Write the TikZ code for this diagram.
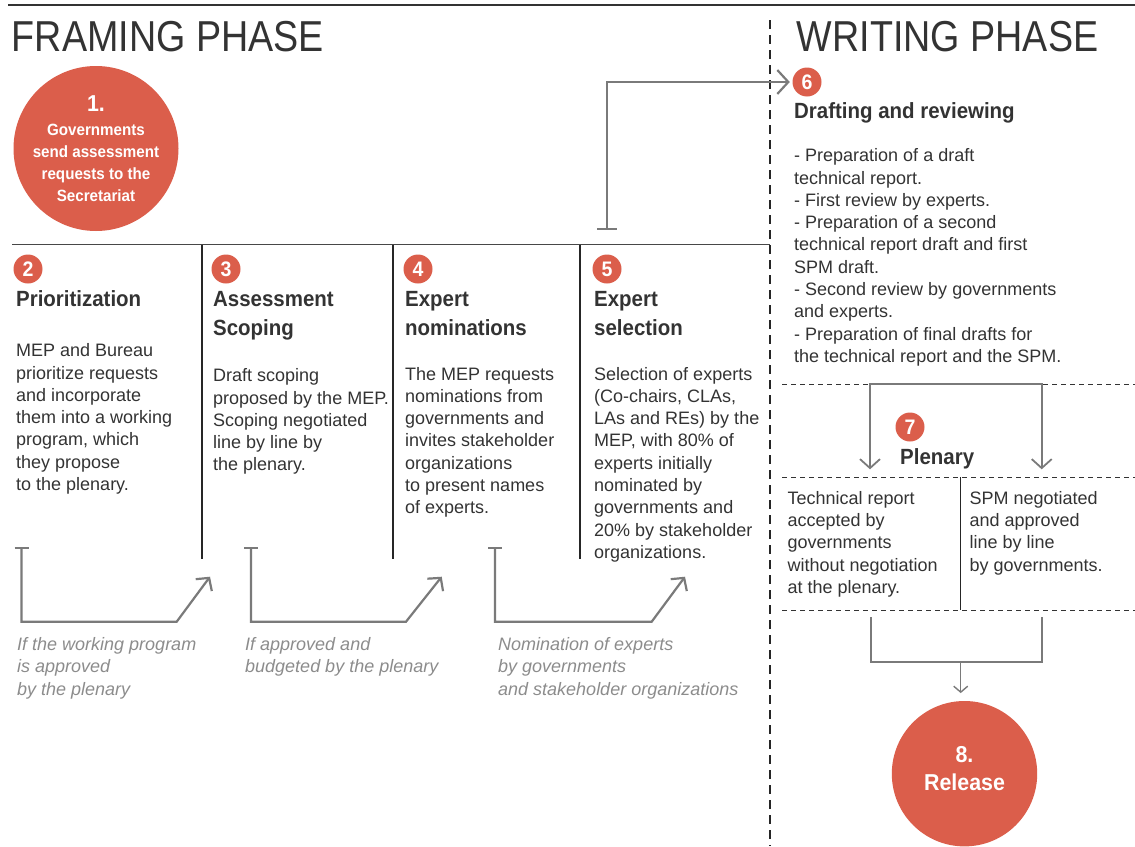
\documentclass[tikz,border=0pt]{standalone}
\usepackage{fontspec}
\setmainfont{Liberation Sans}
\newfontfamily\titlef[FakeStretch=0.87]{Liberation Sans}
\newfontfamily\headf[FakeStretch=0.93]{Liberation Sans}
\usetikzlibrary{arrows.meta}
\definecolor{ipred}{HTML}{DB5E4B}
\definecolor{ipdark}{HTML}{333333}
\definecolor{ipgray}{HTML}{7A7A7A}
\definecolor{ipcap}{HTML}{8C8C8C}
\tikzset{Barbtip/.tip={Straight Barb[length=9, width=20]}}
\begin{document}
% note: for multi-line nodes the base anchor is the baseline of the LAST line
\begin{tikzpicture}[x=1pt,y=-1pt,
  phasetitle/.style={anchor=base west, inner sep=0, font=\titlef\fontsize{43.3}{50}\selectfont, text=ipdark},
  head/.style={anchor=base west, inner sep=0, align=left, font=\headf\bfseries\fontsize{22}{28.3}\selectfont, text=ipdark},
  body/.style={anchor=base west, inner sep=0, align=left, font=\fontsize{18}{22.3}\selectfont, text=ipdark},
  capt/.style={anchor=base west, inner sep=0, align=left, font=\itshape\fontsize{18}{22.3}\selectfont, text=ipcap},
  num/.style={circle, fill=ipred, minimum size=29, inner sep=0, text=white, font=\headf\bfseries\fontsize{21}{21}\selectfont},
  bigc/.style={circle, fill=ipred, inner sep=0},
  bigtxt/.style={anchor=base, inner sep=0, align=center, text=white, font=\headf\bfseries\fontsize{16.3}{22}\selectfont},
  conn/.style={draw=ipgray, line width=2.2},
  thinconn/.style={draw=ipgray, line width=1.8},
  rule/.style={draw=ipdark, line width=1.2},
  dashv/.style={draw=black!85, line width=2, dash pattern=on 9 off 6},
  dashh/.style={draw=ipdark, line width=1, dash pattern=on 5 off 4},
]
\useasboundingbox (0,0) rectangle (1135,846);

% top rule and phase separator
\draw[draw=ipdark, line width=2] (8,5) -- (1135,5);
\draw[dashv] (770,20) -- (770,846);

% titles
\node[phasetitle] (tframe) at (11.7,51.7) {FRAMING PHASE};
\node[phasetitle] (twrite) at (796.7,51.7) {WRITING PHASE};

% step 1
\node[bigc, minimum size=165] (c1) at (96,148.5) {};
\node[bigtxt, font=\headf\bfseries\fontsize{23}{23}\selectfont] (c1n) at (96,111.7) {1.};
\node[bigtxt] (c1t) at (96,201) {Governments\\send assessment\\requests to the\\Secretariat};

% framing rule and columns
\draw[rule, draw=ipdark!90] (12,244.5) -- (770,244.5);
\draw[rule, draw=black!85] (202,244.5) -- (202,559);
\draw[rule, draw=black!85] (393,244.5) -- (393,559);
\draw[rule, draw=black!85] (580,244.5) -- (580,559);

% step markers
\node[num] (n2) at (28,269) {2};
\node[num] (n3) at (226,269) {3};
\node[num] (n4) at (418,269) {4};
\node[num] (n5) at (607,269) {5};
\node[num] (n6) at (807,82) {6};
\node[num] (n7) at (910,427) {7};

% headings
\node[head] (h2) at (16,306.7) {Prioritization};
\node[head] (h3) at (213,335) {Assessment\\Scoping};
\node[head] (h4) at (405,335) {Expert\\nominations};
\node[head] (h5) at (594,335) {Expert\\selection};
\node[head] (h6) at (794,118.3) {Drafting and reviewing};
\node[head] (h7) at (900,464) {Plenary};

% bodies
\node[body] (b2) at (16,490.5) {MEP and Bureau\\prioritize requests\\and incorporate\\them into a working\\program, which\\they propose\\to the plenary.};
\node[body] (b3) at (213,470.9) {Draft scoping\\proposed by the MEP.\\Scoping negotiated\\line by line by\\the plenary.};
\node[body] (b4) at (405,513.8) {The MEP requests\\nominations from\\governments and\\invites stakeholder\\organizations\\to present names\\of experts.};
\node[body] (b5) at (594,558.4) {Selection of experts\\(Co-chairs, CLAs,\\LAs and REs) by the\\MEP, with 80\% of\\experts initially\\nominated by\\governments and\\20\% by stakeholder\\organizations.};
\node[body] (b6) at (794,362.4) {- Preparation of a draft\\technical report.\\- First review by experts.\\- Preparation of a second\\technical report draft and first\\SPM draft.\\- Second review by governments\\and experts.\\- Preparation of final drafts for\\the technical report and the SPM.};
\node[body] (b7a) at (787.3,593.5) {Technical report\\accepted by\\governments\\without negotiation\\at the plenary.};
\node[body] (b7b) at (969.3,571.2) {SPM negotiated\\and approved\\line by line\\by governments.};

% captions
\node[capt] (k1) at (17,695.1) {If the working program\\is approved\\by the plenary};
\node[capt] (k2) at (245,672.8) {If approved and\\budgeted by the plenary};
\node[capt] (k3) at (498,695.1) {Nomination of experts\\by governments\\and stakeholder organizations};

% bracket connectors in framing phase
\coordinate (s1) at (21.5,547); \coordinate (e1) at (210,576.7);
\coordinate (s2) at (251,547); \coordinate (e2) at (441.7,576.7);
\coordinate (s3) at (495,547); \coordinate (e3) at (685,576.7);
\draw[conn, {Bar[width=14]}-{Barbtip}] (s1) -- (21.5,621.7) -- (176.7,621.7) -- (e1);
\draw[conn, {Bar[width=14]}-{Barbtip}] (s2) -- (251,621.7) -- (406,621.7) -- (e2);
\draw[conn, {Bar[width=14]}-{Barbtip}] (s3) -- (495,621.7) -- (651.7,621.7) -- (e3);

% step 5 -> step 6
\coordinate (s5) at (606.7,230);
\draw[conn, {Bar[width=20]}-{Straight Barb[length=11, width=24]}] (s5) |- ([xshift=-2.5]n6.west);

% writing phase dashed separators
\draw[dashh] (782,384.3) -- (1135,384.3);
\draw[dashh] (782,477.3) -- (1135,477.3);
\draw[dashh] (782,610) -- (1135,610);
\draw[rule, draw=black!85] (960.3,477.3) -- (960.3,610);

% plenary split arrows
\coordinate (pl) at (870,469.3);
\coordinate (pr) at (1041.7,469.3);
\draw[thinconn, {Barbtip}-{Barbtip}] (pl) -- (870,384.3) -- (1041.7,384.3) -- (pr);

% join to release
\node[bigc, minimum size=145.4] (c8) at (964.5,773.7) {};
\node[bigtxt, font=\headf\bfseries\fontsize{23}{23}\selectfont] (c8n) at (964.5,762.3) {8.};
\node[bigtxt, font=\headf\bfseries\fontsize{23}{23}\selectfont] (c8t) at (964.5,790.7) {Release};
\coordinate (jl) at (870.7,617.3);
\coordinate (jr) at (1041.7,617.3);
\coordinate (jm) at (960.7,661.7);
\draw[thinconn, line width=2] (jl) -- (870.7,661.7) -- (1041.7,661.7) -- (jr);
\draw[thinconn, line width=1.4, -{Straight Barb[length=6, width=14]}] (jm) -- ([yshift=7.7]jm |- c8.north);
\end{tikzpicture}
\end{document}
